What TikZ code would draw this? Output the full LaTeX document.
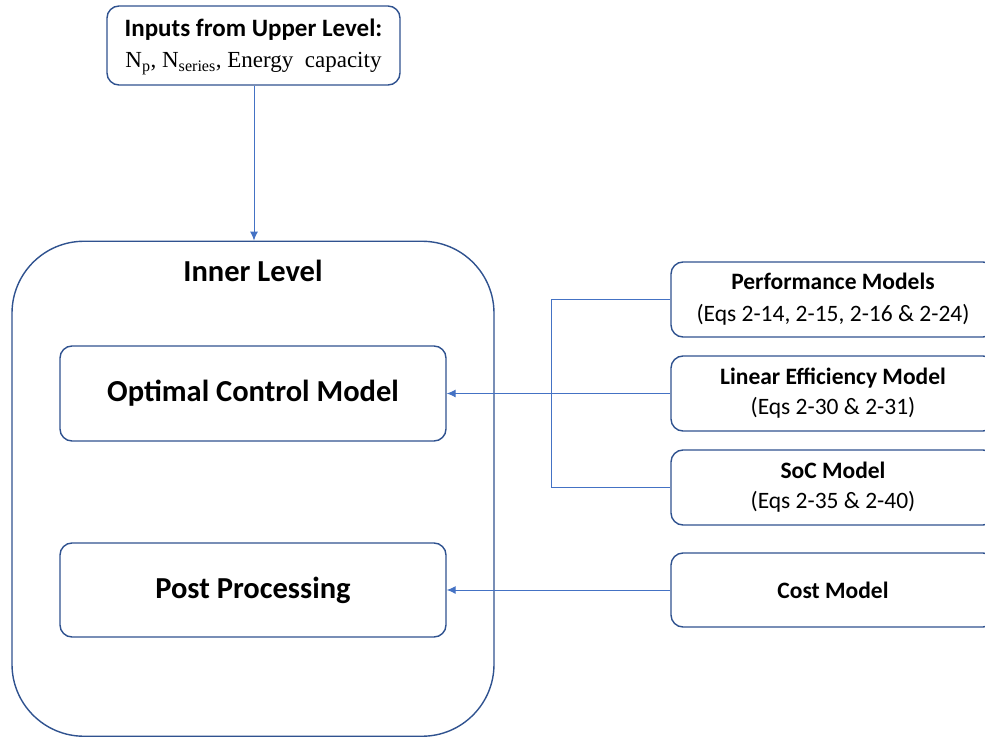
\documentclass[tikz,border=0pt]{standalone}
\usepackage{fontspec}
\setmainfont{Carlito}
\newfontfamily\timesf{Liberation Serif}
\usetikzlibrary{arrows.meta}
\definecolor{boxblue}{HTML}{2F528F}
\definecolor{linkblue}{HTML}{4472C4}
\tikzset{
  box/.style={draw=boxblue, line width=1.4pt, rounded corners=12pt, inner sep=0pt, align=center},
  link/.style={draw=linkblue, line width=1pt},
  arr/.style={link, -{Latex[length=9pt,width=8pt]}},
  bigtxt/.style={font=\fontsize{30.5}{34}\selectfont\bfseries},
  smalltxt/.style={font=\fontsize{23.5}{32}\selectfont}
}
\begin{document}
\begin{tikzpicture}[x=1pt,y=-1pt]
\useasboundingbox (0,0) rectangle (985,738);
\clip (0,0) rectangle (985,738);
% top inputs box
\node[box, minimum width=293pt, minimum height=79pt, font=\fontsize{25}{32}\selectfont] (inp) at (253.5,45.5)
  {\raisebox{-4pt}{\begin{tabular}{@{}c@{}}\bfseries Inputs from Upper Level:\\[-1pt]
   {\fontsize{23}{32}\selectfont\timesf N\textsubscript{p}, N\textsubscript{series}, Energy\ \ capacity}\end{tabular}}};
% inner level container
\node[box, rounded corners=72pt, minimum width=482pt, minimum height=495pt] (inner) at (253,488.75) {};
\node[bigtxt, anchor=center] (innerlbl) at (253,271) {Inner Level};
% inner boxes
\node[box, bigtxt, minimum width=386pt, minimum height=95pt] (ocm) at (253,393.5) {Optimal Control Model};
\node[box, bigtxt, minimum width=386pt, minimum height=94pt] (pp) at (253,590) {Post Processing};
% right boxes
\node[box, smalltxt, minimum width=324pt, minimum height=75pt] (perf) at (833,299.5)
  {\textbf{Performance Models}\\(Eqs 2-14, 2-15, 2-16 \& 2-24)};
\node[box, smalltxt, minimum width=324pt, minimum height=75pt] (lin) at (833,393.5)
  {\textbf{Linear Efficiency Model}\\[-2pt](Eqs 2-30 \& 2-31)};
\node[box, smalltxt, minimum width=324pt, minimum height=75pt] (soc) at (833,487.5)
  {\textbf{SoC Model}\\[-2pt](Eqs 2-35 \& 2-40)};
\node[box, smalltxt, minimum width=324pt, minimum height=74pt] (cost) at (833,590) {\textbf{Cost Model}};
% connectors
\coordinate (bus) at (551,0);
\draw[arr] (inp.south -| 254,0) -- (inner.north -| 254,0);
\draw[link] (perf.west) -- (perf.west -| bus) -- (soc.west -| bus) -- (soc.west);
\draw[arr] (lin.west) -- (ocm.east);
\draw[arr] (cost.west) -- (pp.east);
\end{tikzpicture}
\end{document}
